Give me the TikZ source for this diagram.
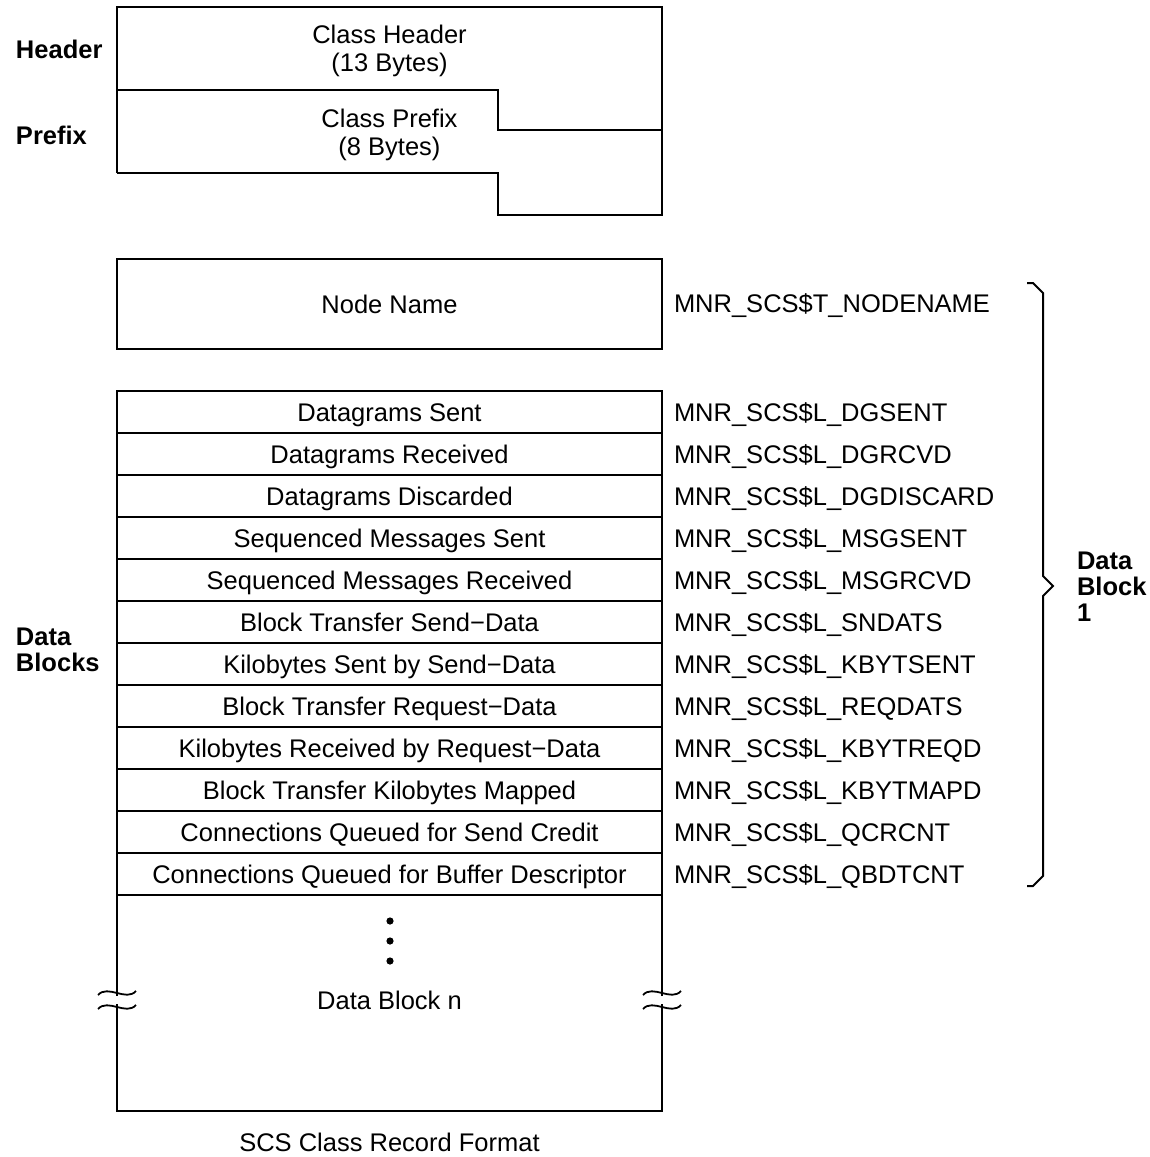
\documentclass[tikz,border=0pt]{standalone}
\usepackage{fontspec}
\setmainfont{Liberation Sans}
\begin{document}
\begin{tikzpicture}[x=1pt,y=-1pt,line width=2pt,
  txt/.style={font=\fontsize{25.5}{30}\selectfont, inner sep=0pt, text height=18.3pt, text depth=0pt},
  btxt/.style={txt, font=\fontsize{25.5}{30}\selectfont\bfseries},
  rowbox/.style={txt, draw, minimum width=545pt, minimum height=42pt},
  fld/.style={txt, anchor=west},
  brk/.style={line width=1.8pt}]
\useasboundingbox (0,0) rectangle (1150,1157);

% header / prefix
\draw (117,173) -- (117,7) -- (662,7) -- (662,215) -- (498,215) -- (498,173) -- (117,173);
\draw (117,90) -- (498,90) -- (498,130) -- (662,130);
\node[txt] (ch1) at (389.5,34) {Class Header};
\node[txt] (ch2) at (389.5,62) {(13 Bytes)};
\node[txt] (cp1) at (389.5,118) {Class Prefix};
\node[txt] (cp2) at (389.5,146) {(8 Bytes)};
\node[btxt, anchor=west] (lh) at (15,49) {Header};
\node[btxt, anchor=west] (lp) at (15,135) {Prefix};

% node name
\node[rowbox, minimum height=90pt] (nn) at (389.5,304) {Node Name};
\node[fld] (fnn) at (673,303) {MNR\_SCS\$T\_NODENAME};

% rows
\node[rowbox] (r1)  at (389.5,412) {Datagrams Sent};
\node[rowbox] (r2)  at (389.5,454) {Datagrams Received};
\node[rowbox] (r3)  at (389.5,496) {Datagrams Discarded};
\node[rowbox] (r4)  at (389.5,538) {Sequenced Messages Sent};
\node[rowbox] (r5)  at (389.5,580) {Sequenced Messages Received};
\node[rowbox] (r6)  at (389.5,622) {Block Transfer Send−Data};
\node[rowbox] (r7)  at (389.5,664) {Kilobytes Sent by Send−Data};
\node[rowbox] (r8)  at (389.5,706) {Block Transfer Request−Data};
\node[rowbox] (r9)  at (389.5,748) {Kilobytes Received by Request−Data};
\node[rowbox] (r10) at (389.5,790) {Block Transfer Kilobytes Mapped};
\node[rowbox] (r11) at (389.5,832) {Connections Queued for Send Credit};
\node[rowbox] (r12) at (389.5,874) {Connections Queued for Buffer Descriptor};

\node[fld] (f1)  at (673,412) {MNR\_SCS\$L\_DGSENT};
\node[fld] (f2)  at (673,454) {MNR\_SCS\$L\_DGRCVD};
\node[fld] (f3)  at (673,496) {MNR\_SCS\$L\_DGDISCARD};
\node[fld] (f4)  at (673,538) {MNR\_SCS\$L\_MSGSENT};
\node[fld] (f5)  at (673,580) {MNR\_SCS\$L\_MSGRCVD};
\node[fld] (f6)  at (673,622) {MNR\_SCS\$L\_SNDATS};
\node[fld] (f7)  at (673,664) {MNR\_SCS\$L\_KBYTSENT};
\node[fld] (f8)  at (673,706) {MNR\_SCS\$L\_REQDATS};
\node[fld] (f9)  at (673,748) {MNR\_SCS\$L\_KBYTREQD};
\node[fld] (f10) at (673,790) {MNR\_SCS\$L\_KBYTMAPD};
\node[fld] (f11) at (673,832) {MNR\_SCS\$L\_QCRCNT};
\node[fld] (f12) at (673,874) {MNR\_SCS\$L\_QBDTCNT};

\node[btxt, anchor=west] (ld1) at (15,636) {Data};
\node[btxt, anchor=west] (ld2) at (15,662) {Blocks};

% lower block
\draw (117,895) -- (117,996);
\draw (117,1004) -- (117,1111) -- (662,1111) -- (662,1004);
\draw (662,996) -- (662,895);
\foreach \xx in {117,662} {
  \draw[brk] (\xx-19,995) .. controls (\xx-9,984) and (\xx+9,1002) .. (\xx+19,991);
  \draw[brk] (\xx-19,1009) .. controls (\xx-9,998) and (\xx+9,1016) .. (\xx+19,1005);
}
\fill (390,921) circle (3.6);
\fill (390,941) circle (3.6);
\fill (390,961) circle (3.6);
\node[txt] (dbn) at (389.5,1000) {Data Block n};
\node[txt] (cap) at (389.5,1142) {SCS Class Record Format};

% brace
\draw[line join=miter] (1027,283) -- (1033,283) -- (1043,293) -- (1043,576) -- (1053,586) -- (1043,596) -- (1043,876) -- (1033,886) -- (1027,886);
\node[btxt, anchor=west] (b1) at (1076,560) {Data};
\node[btxt, anchor=west] (b2) at (1076,586) {Block};
\node[btxt, anchor=west] (b3) at (1076,612) {1};
\end{tikzpicture}
\end{document}
